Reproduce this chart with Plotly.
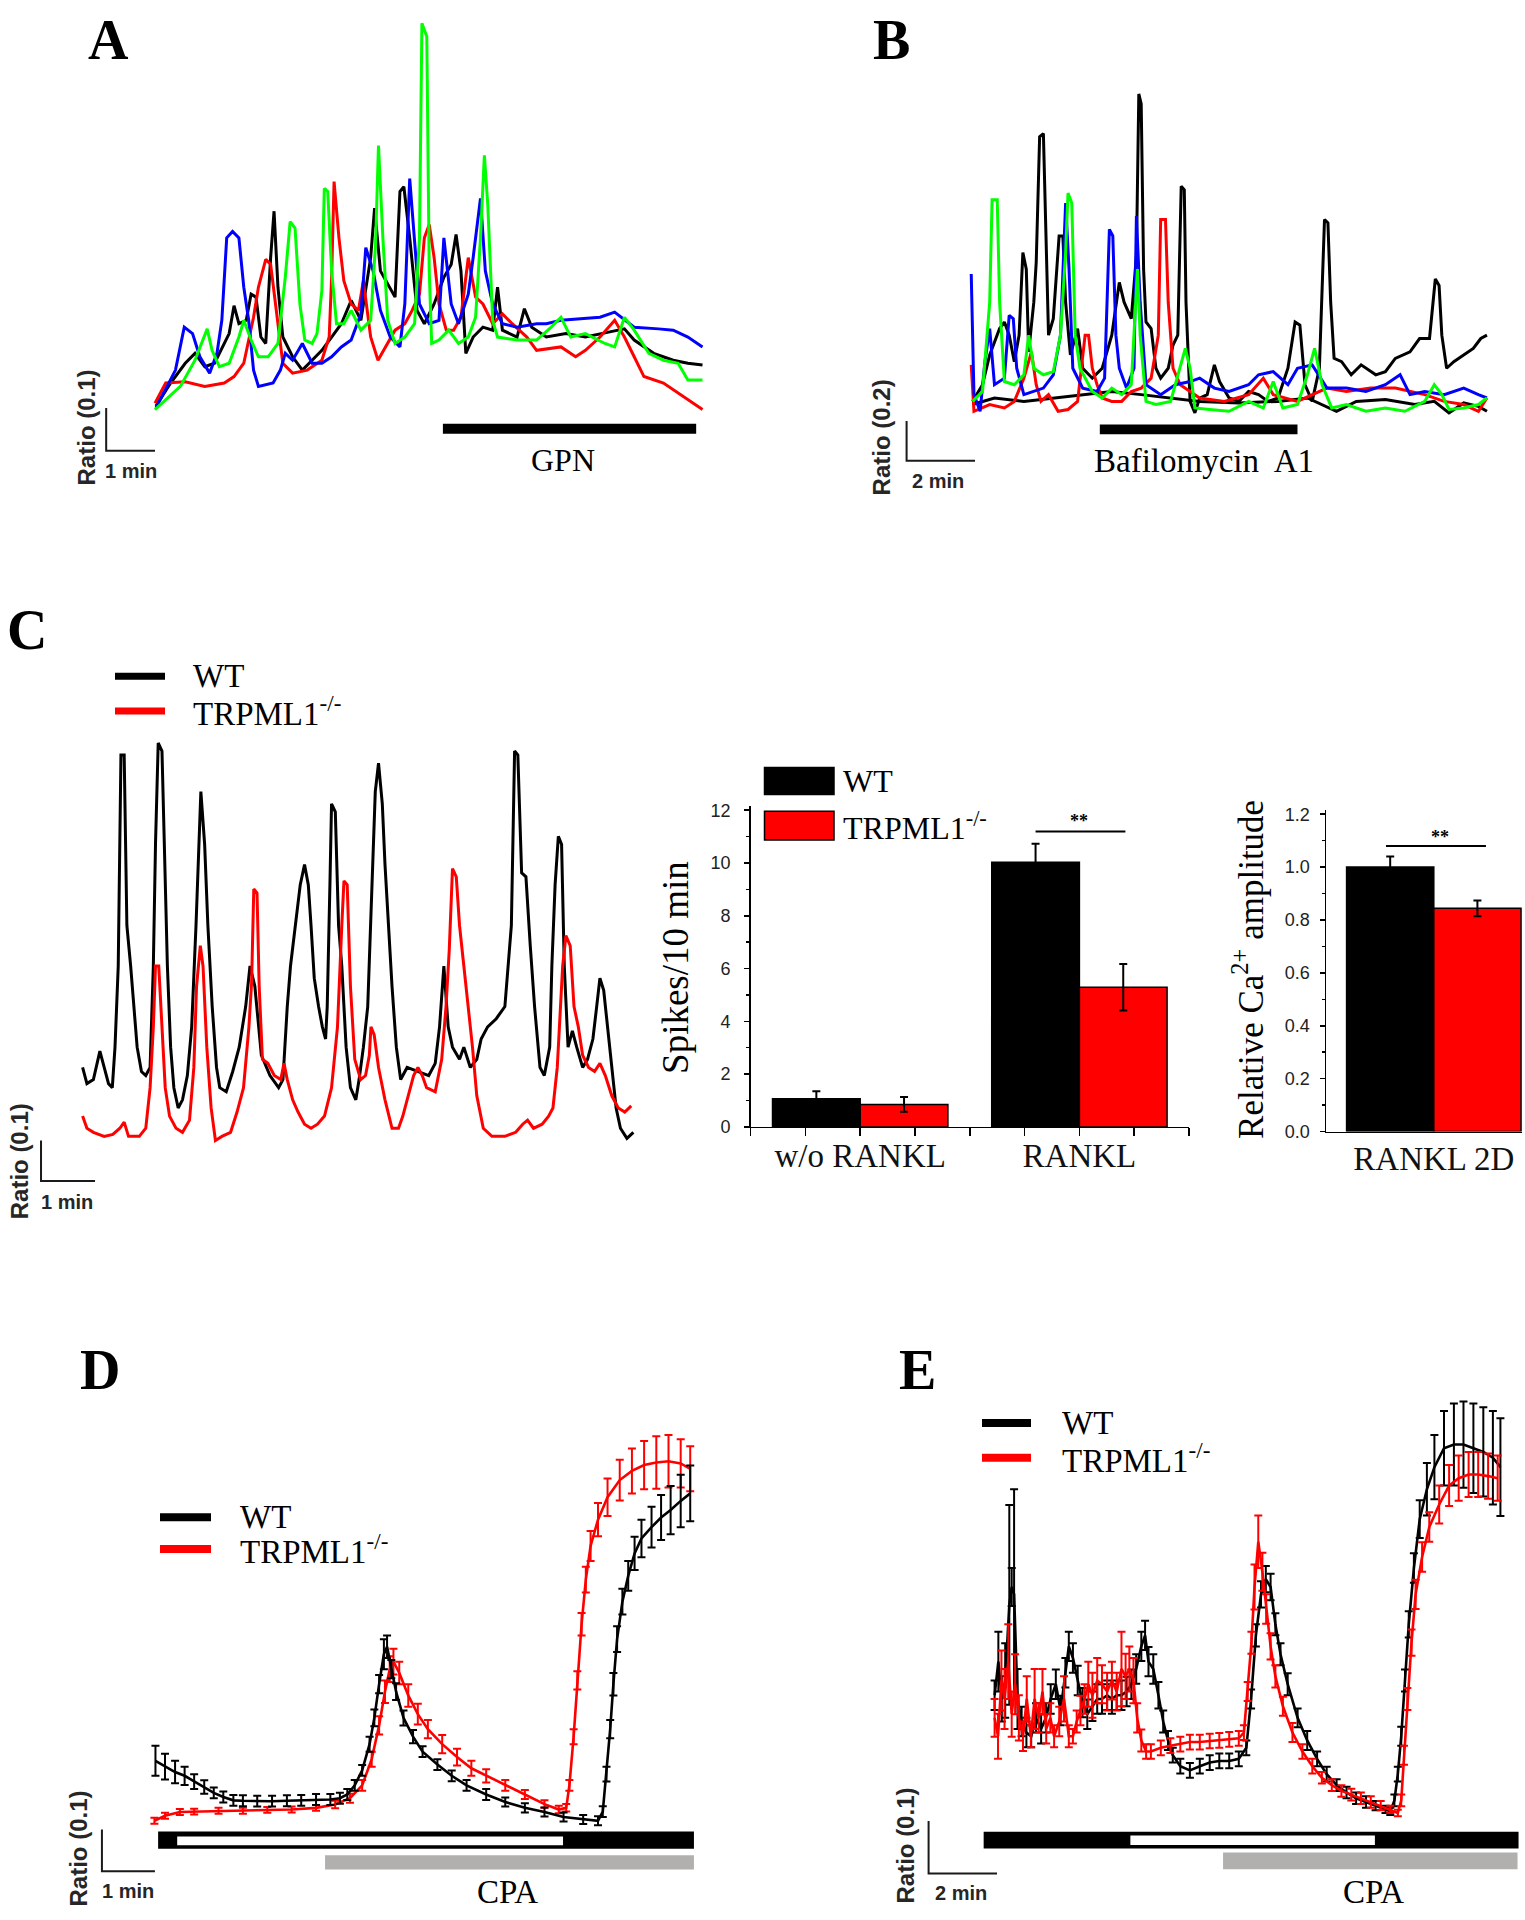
import plotly.graph_objects as go

W, H = 1525, 1920
SERIF = "Liberation Serif"
SANS = "Liberation Sans"
BLACK, RED, BLUE, GREEN = "#000000", "#ff0000", "#0000ff", "#00ff00"
CPA_GRAY = "#b2afaf"
TXT = "#262626"

# ---------------- DATA ----------------
# Panel A : (time [min], ratio change)
A_BLACK = [(0.04,0.008),(0.34,0.062),(0.64,0.108),(0.84,0.131),(1.04,0.1),(1.24,0.108),(1.54,0.177),(1.64,0.242),
           (1.74,0.2),(1.89,0.208),(1.99,0.269),(2.09,0.262),(2.19,0.169),(2.29,0.154),(2.39,0.354),(2.46,0.462),
           (2.54,0.285),(2.64,0.169),(2.84,0.123),(3.04,0.092),(3.24,0.115),(3.44,0.138),(3.64,0.169),(3.84,0.2),
           (4.04,0.254),(4.24,0.208),(4.44,0.354),(4.52,0.469),(4.64,0.323),(4.79,0.292),(4.94,0.262),(5.04,0.508),
           (5.12,0.519),(5.24,0.4),(5.39,0.231),(5.54,0.2),(5.74,0.246),(5.94,0.308),(6.09,0.338),(6.19,0.408),
           (6.29,0.323),(6.39,0.131),(6.54,0.169),(6.74,0.192),(6.94,0.185),(7.04,0.285),(7.14,0.185),(7.44,0.169),
           (7.59,0.235),(7.74,0.192),(8.04,0.169),(8.44,0.177),(8.84,0.169),(9.34,0.181),(9.64,0.188),(9.84,0.162),
           (10.24,0.131),(10.64,0.115),(10.94,0.108),(11.24,0.104)]
A_RED = [(0.02,0.015),(0.24,0.062),(0.64,0.065),(1.04,0.054),(1.44,0.062),(1.64,0.077),(1.84,0.108),(1.94,0.162),
         (2.04,0.215),(2.14,0.285),(2.29,0.35),(2.39,0.338),(2.49,0.246),(2.64,0.108),(2.84,0.085),(3.14,0.092),
         (3.44,0.115),(3.59,0.169),(3.64,0.308),(3.69,0.531),(3.79,0.4),(3.89,0.3),(4.04,0.246),(4.19,0.231),
         (4.29,0.3),(4.44,0.169),(4.59,0.115),(4.74,0.146),(4.94,0.185),(5.14,0.2),(5.29,0.231),(5.44,0.269),
         (5.54,0.4),(5.64,0.431),(5.74,0.354),(5.84,0.246),(5.99,0.185),(6.14,0.185),(6.29,0.215),(6.44,0.354),
         (6.59,0.262),(6.74,0.246),(6.94,0.2),(7.14,0.223),(7.34,0.2),(7.64,0.169),(7.84,0.138),(8.34,0.146),
         (8.64,0.123),(8.84,0.138),(9.14,0.169),(9.44,0.208),(9.64,0.169),(9.84,0.123),(10.04,0.077),(10.44,0.062),
         (10.74,0.038),(11.04,0.015),(11.24,0.0)]
A_BLUE = [(0.04,0.004),(0.44,0.092),(0.62,0.192),(0.79,0.177),(0.94,0.123),(1.14,0.085),(1.29,0.131),(1.39,0.208),
          (1.49,0.4),(1.61,0.415),(1.74,0.4),(1.84,0.285),(1.94,0.208),(2.04,0.092),(2.14,0.054),(2.44,0.062),
          (2.59,0.092),(2.69,0.131),(2.84,0.115),(3.04,0.154),(3.24,0.108),(3.44,0.108),(3.64,0.123),(3.84,0.146),
          (4.04,0.162),(4.24,0.223),(4.34,0.377),(4.49,0.323),(4.64,0.231),(4.84,0.169),(5.04,0.146),(5.14,0.246),
          (5.24,0.538),(5.34,0.4),(5.44,0.246),(5.64,0.2),(5.84,0.208),(5.94,0.4),(6.09,0.246),(6.24,0.2),
          (6.44,0.269),(6.54,0.354),(6.69,0.492),(6.79,0.323),(6.94,0.246),(7.14,0.2),(7.44,0.192),(7.84,0.2),
          (8.04,0.2),(8.34,0.208),(8.84,0.212),(9.14,0.215),(9.44,0.227),(9.84,0.192),(10.34,0.188),(10.64,0.185),
          (10.94,0.169),(11.24,0.146)]
A_GREEN = [(0.02,0.0),(0.24,0.023),(0.54,0.054),(0.84,0.115),(1.09,0.188),(1.19,0.138),(1.34,0.1),(1.54,0.108),
           (1.74,0.169),(1.84,0.208),(1.99,0.162),(2.14,0.123),(2.34,0.123),(2.54,0.154),(2.69,0.308),(2.79,0.438),
           (2.89,0.423),(2.99,0.246),(3.09,0.162),(3.24,0.154),(3.34,0.177),(3.44,0.277),(3.49,0.515),(3.56,0.508),
           (3.64,0.323),(3.74,0.2),(3.89,0.2),(4.04,0.231),(4.24,0.185),(4.44,0.208),(4.54,0.385),(4.6,0.615),
           (4.69,0.4),(4.79,0.208),(4.94,0.154),(5.14,0.169),(5.34,0.2),(5.44,0.4),(5.49,0.9),(5.59,0.869),
           (5.64,0.323),(5.69,0.154),(5.84,0.162),(6.04,0.185),(6.24,0.154),(6.44,0.169),(6.59,0.215),(6.69,0.4),
           (6.77,0.592),(6.84,0.477),(6.94,0.208),(7.04,0.169),(7.44,0.162),(7.84,0.162),(8.14,0.192),(8.34,0.215),
           (8.54,0.169),(8.84,0.177),(9.24,0.154),(9.44,0.146),(9.64,0.215),(9.84,0.185),(10.14,0.131),(10.44,0.115),
           (10.74,0.108),(10.94,0.069),(11.24,0.069)]
A_GPN = (5.92, 11.11)

# Panel B : (time [min], ratio change)
B_BLACK1 = [(0.07,0.058),(0.36,0.142),(0.57,0.292),(0.86,0.425),(1.0,0.458),(1.14,0.392),(1.29,0.258),(1.43,0.392),
            (1.54,0.808),(1.64,0.725),(1.71,0.308),(1.86,0.558),(1.93,0.758),(2.03,1.392),(2.14,1.408),(2.21,0.892),
            (2.29,0.392),(2.43,0.475),(2.5,0.642),(2.6,0.892),(2.71,0.892),(2.79,0.558),(2.93,0.292),(3.14,0.425),
            (3.29,0.225),(3.57,0.175),(3.86,0.225),(4.14,0.392),(4.36,0.658),(4.5,0.558),(4.71,0.475),(4.86,0.792),
            (4.93,1.608),(5.0,1.558),(5.07,0.725),(5.14,0.458),(5.29,0.425),(5.43,0.225),(5.57,0.175),(5.79,0.225),
            (5.93,0.342),(6.07,0.392),(6.17,1.142),(6.26,1.125),(6.31,0.558),(6.43,0.058),(6.57,0.0),(6.71,0.075),
            (6.93,0.092),(7.14,0.242),(7.29,0.158),(7.57,0.075),(7.86,0.058),(8.14,0.108),(8.43,0.092),(8.71,0.058),
            (9.0,0.075),(9.29,0.225),(9.5,0.458),(9.64,0.442),(9.79,0.142),(10.0,0.058),(10.21,0.225),(10.36,0.975),
            (10.46,0.958),(10.54,0.558),(10.64,0.275),(10.86,0.258),(11.14,0.192),(11.43,0.242),(11.86,0.192),
            (12.14,0.208),(12.43,0.275),(12.86,0.308),(13.14,0.375),(13.43,0.375),(13.6,0.675),(13.71,0.642),
            (13.79,0.392),(13.93,0.225),(14.14,0.258),(14.43,0.292),(14.71,0.325),(14.93,0.375),(15.11,0.392)]
B_BLACK2 = [(0.07,0.042),(0.71,0.075),(1.57,0.058),(2.43,0.075),(3.29,0.092),(4.14,0.108),(5.0,0.092),(5.86,0.075),
            (6.71,0.058),(7.86,0.05),(9.0,0.058),(9.86,0.075),(10.71,0.008),(11.29,0.058),(12.14,0.067),(13.0,0.042),
            (13.57,0.058),(14.0,0.0),(14.43,0.05),(14.86,0.033),(15.11,0.008)]
B_RED = [(0.03,0.242),(0.11,0.008),(0.57,0.042),(1.0,0.025),(1.29,0.058),(1.57,0.175),(1.79,0.308),(1.93,0.142),
         (2.07,0.058),(2.29,0.092),(2.57,0.008),(2.86,0.017),(3.14,0.058),(3.36,0.392),(3.46,0.392),(3.57,0.225),
         (3.71,0.142),(3.86,0.075),(4.14,0.058),(4.43,0.058),(4.71,0.108),(5.0,0.125),(5.29,0.175),(5.5,0.392),
         (5.57,0.975),(5.71,0.975),(5.79,0.558),(5.93,0.225),(6.14,0.142),(6.43,0.108),(6.71,0.075),(7.43,0.058),
         (8.14,0.092),(8.57,0.175),(8.86,0.092),(9.57,0.058),(10.0,0.092),(10.43,0.125),(11.0,0.108),(11.71,0.125),
         (12.43,0.125),(12.86,0.108),(13.29,0.092),(13.86,0.058),(14.43,0.042),(14.86,0.008),(15.11,0.075)]
B_BLUE = [(0.03,0.7),(0.11,0.092),(0.29,0.008),(0.43,0.258),(0.57,0.425),(0.71,0.142),(1.0,0.175),(1.14,0.492),
          (1.26,0.475),(1.36,0.225),(1.57,0.092),(1.86,0.108),(2.14,0.125),(2.43,0.192),(2.64,0.392),(2.79,1.058),
          (2.89,0.725),(3.0,0.225),(3.29,0.125),(3.71,0.108),(3.93,0.175),(4.07,0.925),(4.17,0.892),(4.26,0.392),
          (4.36,0.225),(4.57,0.125),(4.79,0.225),(4.86,0.992),(4.97,0.558),(5.14,0.142),(5.57,0.092),(6.0,0.142),
          (6.43,0.158),(6.71,0.175),(7.14,0.125),(7.57,0.108),(8.14,0.142),(8.43,0.192),(8.86,0.208),(9.29,0.142),
          (9.57,0.225),(10.0,0.242),(10.43,0.125),(11.0,0.125),(11.57,0.108),(12.14,0.142),(12.57,0.192),
          (12.86,0.092),(13.29,0.108),(13.86,0.092),(14.43,0.125),(14.86,0.092),(15.11,0.075)]
B_GREEN = [(0.07,0.058),(0.36,0.108),(0.57,0.558),(0.64,1.075),(0.79,1.075),(0.86,0.558),(1.0,0.158),(1.29,0.142),
           (1.57,0.192),(1.71,0.392),(1.86,0.225),(2.14,0.192),(2.43,0.208),(2.64,0.392),(2.79,0.808),(2.86,1.108),
           (2.97,1.058),(3.07,0.392),(3.21,0.225),(3.57,0.108),(3.86,0.075),(4.14,0.125),(4.43,0.092),(4.71,0.142),
           (4.89,0.725),(4.97,0.392),(5.14,0.058),(5.43,0.042),(5.86,0.058),(6.14,0.225),(6.29,0.325),(6.43,0.225),
           (6.57,0.025),(7.0,0.017),(7.57,0.008),(8.14,0.058),(8.57,0.025),(8.86,0.158),(9.14,0.025),(9.57,0.042),
           (9.86,0.192),(10.07,0.325),(10.29,0.142),(10.57,0.025),(11.0,0.042),(11.57,0.008),(12.14,0.025),
           (12.71,0.008),(13.29,0.058),(13.57,0.142),(13.79,0.092),(14.0,0.017),(14.43,0.025),(14.86,0.042),
           (15.11,0.075)]
B_BAF = (3.79, 9.57)

# Panel C traces : (time [min], ratio change)
C_WT = [(0.0,0.185),(0.08,0.145),(0.2,0.155),(0.32,0.225),(0.4,0.185),(0.48,0.145),(0.55,0.135),(0.6,0.235),
        (0.66,0.435),(0.71,0.955),(0.77,0.955),(0.82,0.535),(0.89,0.435),(0.95,0.335),(1.01,0.235),(1.09,0.175),
        (1.17,0.165),(1.25,0.185),(1.31,0.435),(1.35,0.735),(1.4,0.985),(1.47,0.965),(1.52,0.685),(1.57,0.435),
        (1.63,0.235),(1.69,0.135),(1.77,0.085),(1.85,0.105),(1.94,0.165),(2.02,0.285),(2.1,0.535),(2.15,0.735),
        (2.19,0.865),(2.26,0.735),(2.32,0.535),(2.4,0.335),(2.48,0.185),(2.54,0.135),(2.66,0.125),(2.78,0.175),
        (2.9,0.235),(3.02,0.335),(3.1,0.435),(3.19,0.385),(3.31,0.215),(3.47,0.165),(3.63,0.135),(3.71,0.155),
        (3.79,0.335),(3.85,0.435),(3.94,0.535),(4.03,0.635),(4.11,0.685),(4.18,0.635),(4.23,0.535),(4.29,0.405),
        (4.37,0.335),(4.44,0.285),(4.5,0.255),(4.53,0.335),(4.58,0.635),(4.61,0.835),(4.68,0.815),(4.74,0.535),
        (4.8,0.435),(4.88,0.235),(4.96,0.135),(5.06,0.105),(5.12,0.155),(5.2,0.235),(5.28,0.335),(5.36,0.635),
        (5.42,0.865),(5.48,0.935),(5.55,0.835),(5.6,0.685),(5.66,0.535),(5.73,0.385),(5.81,0.235),(5.89,0.155),
        (6.01,0.185),(6.21,0.175),(6.41,0.165),(6.53,0.195),(6.61,0.285),(6.69,0.435),(6.77,0.285),(6.85,0.235),
        (6.98,0.205),(7.06,0.235),(7.18,0.185),(7.3,0.205),(7.38,0.255),(7.5,0.285),(7.66,0.305),(7.82,0.335),
        (7.94,0.535),(8.0,0.965),(8.06,0.955),(8.13,0.665),(8.21,0.655),(8.29,0.485),(8.37,0.335),(8.47,0.185),
        (8.55,0.165),(8.65,0.235),(8.69,0.435),(8.75,0.635),(8.81,0.755),(8.87,0.735),(8.92,0.435),(8.99,0.235),
        (9.07,0.275),(9.15,0.235),(9.26,0.185),(9.35,0.205),(9.45,0.255),(9.52,0.335),(9.58,0.405),(9.65,0.375),
        (9.72,0.285),(9.8,0.185),(9.88,0.085),(9.96,0.035),(10.08,0.01),(10.2,0.025)]
C_KO = [(0.0,0.065),(0.08,0.035),(0.2,0.025),(0.4,0.015),(0.56,0.02),(0.69,0.035),(0.77,0.05),(0.85,0.015),
        (1.05,0.015),(1.17,0.035),(1.25,0.135),(1.31,0.285),(1.35,0.435),(1.41,0.435),(1.45,0.335),(1.53,0.135),
        (1.61,0.065),(1.73,0.035),(1.85,0.025),(1.98,0.055),(2.06,0.185),(2.11,0.385),(2.18,0.485),(2.23,0.435),
        (2.3,0.235),(2.38,0.085),(2.46,0.005),(2.58,0.015),(2.74,0.025),(2.86,0.075),(2.98,0.135),(3.08,0.285),
        (3.13,0.395),(3.17,0.625),(3.23,0.615),(3.27,0.385),(3.33,0.205),(3.43,0.195),(3.55,0.165),(3.67,0.155),
        (3.73,0.195),(3.79,0.155),(3.89,0.105),(3.99,0.075),(4.11,0.045),(4.23,0.035),(4.35,0.045),(4.48,0.065),
        (4.61,0.135),(4.72,0.285),(4.8,0.535),(4.84,0.645),(4.9,0.635),(4.96,0.385),(5.04,0.205),(5.15,0.155),
        (5.24,0.165),(5.31,0.215),(5.34,0.285),(5.4,0.265),(5.48,0.185),(5.6,0.105),(5.73,0.035),(5.85,0.035),
        (5.93,0.065),(6.05,0.125),(6.13,0.165),(6.21,0.185),(6.29,0.165),(6.37,0.135),(6.53,0.125),(6.65,0.205),
        (6.73,0.335),(6.79,0.475),(6.85,0.675),(6.92,0.655),(6.98,0.535),(7.06,0.435),(7.14,0.335),(7.22,0.235),
        (7.3,0.115),(7.42,0.035),(7.58,0.015),(7.82,0.015),(8.02,0.025),(8.15,0.045),(8.24,0.055),(8.35,0.035),
        (8.51,0.045),(8.63,0.065),(8.71,0.085),(8.79,0.185),(8.89,0.435),(8.95,0.51),(9.03,0.485),(9.1,0.335),
        (9.18,0.285),(9.26,0.215),(9.37,0.185),(9.48,0.175),(9.58,0.195),(9.68,0.165),(9.8,0.115),(9.92,0.085),
        (10.04,0.075),(10.16,0.09)]

# Panel C bar charts
SPIKE_CATS = ["w/o RANKL", "RANKL"]
SPIKE_WT = [1.07, 10.03]
SPIKE_WT_SEM = [0.28, 0.7]
SPIKE_KO = [0.85, 5.29]
SPIKE_KO_SEM = [0.28, 0.88]
SPIKE_TICKS = [0, 2, 4, 6, 8, 10, 12]
AMP_CATS = ["RANKL 2D"]
AMP_WT = [1.0]
AMP_WT_SEM = [0.04]
AMP_KO = [0.844]
AMP_KO_SEM = [0.03]
AMP_TICKS = [0.0, 0.2, 0.4, 0.6, 0.8, 1.0, 1.2]

# Panel D : (time [min], mean ratio change, SEM)
D_WT = [(0.02,0.153,0.036),(0.2,0.139,0.031),(0.39,0.126,0.027),(0.57,0.117,0.022),(0.75,0.103,0.018),
        (0.94,0.09,0.016),(1.12,0.076,0.013),(1.3,0.066,0.013),(1.49,0.058,0.013),(1.67,0.057,0.013),
        (1.94,0.056,0.013),(2.22,0.056,0.013),(2.5,0.057,0.013),(2.77,0.058,0.013),(3.05,0.06,0.013),
        (3.32,0.06,0.013),(3.5,0.063,0.013),(3.64,0.072,0.013),(3.78,0.094,0.013),(3.92,0.13,0.013),
        (4.06,0.193,0.018),(4.15,0.256,0.02),(4.24,0.337,0.022),(4.33,0.409,0.036),(4.39,0.427,0.027),
        (4.47,0.373,0.022),(4.56,0.319,0.02),(4.7,0.256,0.018),(4.88,0.211,0.016),(5.06,0.175,0.013),
        (5.34,0.144,0.013),(5.61,0.117,0.013),(5.89,0.094,0.013),(6.26,0.072,0.013),(6.62,0.054,0.011),
        (6.99,0.04,0.011),(7.36,0.03,0.011),(7.72,0.018,0.011),(8.09,0.012,0.011),(8.37,0.009,0.011),
        (8.46,0.031,0.013),(8.53,0.121,0.018),(8.6,0.229,0.022),(8.66,0.337,0.027),(8.73,0.445,0.031),
        (8.83,0.535,0.031),(8.94,0.597,0.036),(9.06,0.651,0.04),(9.19,0.687,0.045),(9.38,0.714,0.049),
        (9.56,0.737,0.054),(9.74,0.755,0.058),(9.93,0.777,0.063),(10.11,0.795,0.067)]
D_KO = [(0.0,0.009,0.007),(0.2,0.021,0.007),(0.48,0.03,0.007),(0.75,0.031,0.007),(1.21,0.033,0.007),
        (1.67,0.033,0.007),(2.13,0.035,0.007),(2.59,0.036,0.007),(3.05,0.04,0.007),(3.41,0.048,0.009),
        (3.69,0.063,0.011),(3.92,0.094,0.013),(4.1,0.157,0.018),(4.24,0.238,0.022),(4.35,0.319,0.027),
        (4.44,0.373,0.031),(4.51,0.391,0.031),(4.62,0.364,0.027),(4.79,0.31,0.027),(4.97,0.265,0.025),
        (5.16,0.229,0.022),(5.43,0.193,0.022),(5.71,0.162,0.02),(5.98,0.135,0.018),(6.26,0.117,0.016),
        (6.62,0.094,0.013),(6.99,0.072,0.011),(7.36,0.049,0.009),(7.63,0.036,0.009),(7.77,0.04,0.009),
        (7.83,0.094,0.013),(7.91,0.211,0.018),(7.98,0.346,0.022),(8.06,0.481,0.027),(8.14,0.588,0.031),
        (8.23,0.669,0.036),(8.37,0.732,0.04),(8.55,0.786,0.045),(8.78,0.827,0.049),(9.01,0.849,0.054),
        (9.24,0.863,0.058),(9.47,0.869,0.063),(9.7,0.872,0.063),(9.93,0.867,0.058),(10.11,0.854,0.054)]
D_STRIP = (0.07, 10.18)      # solution bar
D_ZERO_CA = (0.43, 7.71)     # open (white) part of the bar
D_CPA = (3.22, 10.18)

# Panel E : (time [min], mean ratio change, SEM)
E_WT = [(0.0,0.228,0.028),(0.11,0.292,0.057),(0.21,0.221,0.043),(0.31,0.256,0.071),(0.43,0.40,0.19),
        (0.5,0.434,0.036),(0.57,0.42,0.2),(0.67,0.221,0.057),(0.79,0.178,0.028),(0.93,0.157,0.028),
        (1.07,0.15,0.021),(1.21,0.185,0.028),(1.36,0.164,0.028),(1.5,0.185,0.028),(1.64,0.221,0.028),
        (1.79,0.249,0.028),(1.93,0.199,0.028),(2.07,0.271,0.028),(2.17,0.321,0.028),(2.29,0.299,0.028),
        (2.43,0.256,0.028),(2.57,0.214,0.028),(2.71,0.192,0.028),(2.86,0.207,0.028),(3.0,0.221,0.028),
        (3.14,0.221,0.028),(3.29,0.228,0.028),(3.43,0.221,0.028),(3.57,0.228,0.028),(3.71,0.228,0.028),
        (3.86,0.235,0.028),(4.0,0.249,0.028),(4.14,0.278,0.028),(4.29,0.321,0.028),(4.4,0.342,0.028),
        (4.5,0.292,0.028),(4.64,0.278,0.028),(4.79,0.228,0.025),(4.93,0.178,0.021),(5.07,0.142,0.018),
        (5.21,0.114,0.014),(5.43,0.093,0.014),(5.71,0.085,0.014),(6.0,0.093,0.014),(6.29,0.1,0.014),
        (6.57,0.103,0.014),(6.86,0.103,0.014),(7.14,0.107,0.014),(7.36,0.128,0.014),(7.5,0.221,0.018),
        (7.64,0.342,0.021),(7.79,0.42,0.025),(7.93,0.449,0.025),(8.07,0.434,0.025),(8.21,0.363,0.021),
        (8.36,0.306,0.021),(8.57,0.249,0.021),(8.86,0.185,0.018),(9.14,0.142,0.018),(9.43,0.107,0.014),
        (9.71,0.078,0.014),(10.0,0.057,0.011),(10.29,0.043,0.011),(10.57,0.032,0.011),(10.86,0.025,0.011),
        (11.14,0.018,0.009),(11.43,0.011,0.007),(11.57,0.007,0.007),(11.69,0.028,0.011),(11.79,0.078,0.014),
        (11.89,0.15,0.018),(12.0,0.256,0.021),(12.11,0.363,0.025),(12.26,0.47,0.028),(12.43,0.563,0.036),
        (12.64,0.62,0.05),(12.86,0.662,0.061),(13.14,0.698,0.071),(13.43,0.705,0.078),(13.71,0.705,0.082),
        (14.0,0.698,0.085),(14.29,0.691,0.085),(14.57,0.68,0.089),(14.79,0.662,0.093)]
E_KO = [(0.0,0.185,0.036),(0.1,0.15,0.043),(0.2,0.256,0.057),(0.29,0.221,0.057),(0.4,0.292,0.071),
        (0.5,0.192,0.043),(0.6,0.249,0.057),(0.71,0.185,0.043),(0.83,0.15,0.028),(0.94,0.221,0.043),
        (1.06,0.15,0.021),(1.17,0.221,0.057),(1.29,0.185,0.028),(1.4,0.235,0.043),(1.51,0.164,0.028),
        (1.63,0.185,0.028),(1.74,0.15,0.021),(1.89,0.178,0.028),(2.03,0.221,0.043),(2.17,0.15,0.021),
        (2.29,0.15,0.014),(2.4,0.178,0.021),(2.51,0.199,0.028),(2.63,0.221,0.028),(2.74,0.249,0.043),
        (2.86,0.228,0.043),(3.0,0.256,0.043),(3.14,0.249,0.036),(3.29,0.235,0.036),(3.43,0.256,0.036),
        (3.57,0.235,0.036),(3.71,0.278,0.071),(3.83,0.264,0.043),(3.94,0.278,0.043),(4.06,0.256,0.043),
        (4.17,0.185,0.028),(4.29,0.142,0.021),(4.43,0.121,0.014),(4.57,0.121,0.014),(4.86,0.128,0.014),
        (5.14,0.132,0.014),(5.43,0.135,0.014),(5.71,0.139,0.014),(6.0,0.139,0.014),(6.29,0.141,0.014),
        (6.57,0.142,0.014),(6.86,0.144,0.014),(7.14,0.146,0.014),(7.29,0.157,0.014),(7.4,0.235,0.018),
        (7.51,0.328,0.021),(7.6,0.434,0.043),(7.71,0.52,0.05),(7.83,0.463,0.036),(7.94,0.392,0.028),
        (8.07,0.321,0.025),(8.21,0.264,0.021),(8.43,0.207,0.018),(8.71,0.157,0.018),(9.0,0.121,0.014),
        (9.29,0.093,0.014),(9.57,0.071,0.011),(9.86,0.057,0.011),(10.14,0.046,0.011),(10.43,0.039,0.011),
        (10.71,0.032,0.011),(11.0,0.025,0.011),(11.29,0.018,0.009),(11.57,0.011,0.007),(11.79,0.004,0.006),
        (11.89,0.028,0.011),(11.97,0.114,0.018),(12.07,0.221,0.021),(12.19,0.328,0.025),(12.31,0.42,0.028),
        (12.5,0.491,0.028),(12.71,0.548,0.028),(13.0,0.591,0.036),(13.29,0.627,0.039),(13.57,0.641,0.043),
        (13.86,0.648,0.043),(14.14,0.648,0.043),(14.43,0.645,0.043),(14.71,0.641,0.043)]
E_STRIP = (-0.32, 15.32)
E_ZERO_CA = (3.97, 11.12)
E_CPA = (6.68, 15.29)


# ---------------- HELPERS ----------------
def fx(px):
    return px / W


def fy(py):
    return 1 - py / H


def cols(rows):
    return [list(c) for c in zip(*rows)]


layout_axes = {}


def ax_names(i):
    s = "" if i == 1 else str(i)
    return "x" + s, "y" + s


def add_hidden_panel(i, box, origin, scale):
    """box=(px0,px1,py0,py1) pixel frame; origin=(px of t=0, py of ratio=0); scale=(px/min, px/ratio)."""
    px0, px1, py0, py1 = box
    ox, oy = origin
    sx, sy = scale
    xn, yn = ax_names(i)
    layout_axes["xaxis" + xn[1:]] = dict(domain=[fx(px0), fx(px1)], range=[(px0 - ox) / sx, (px1 - ox) / sx],
                                         visible=False, anchor=yn, fixedrange=True)
    layout_axes["yaxis" + yn[1:]] = dict(domain=[fy(py1), fy(py0)], range=[(oy - py1) / sy, (oy - py0) / sy],
                                         visible=False, anchor=xn, fixedrange=True)
    return xn, yn


fig = go.Figure()
shapes = []
annots = []


def line_trace(rows, color, xa, ya, width=3):
    t, r = cols(rows)
    fig.add_trace(go.Scatter(x=t, y=r, mode="lines", line=dict(color=color, width=width),
                             xaxis=xa, yaxis=ya, showlegend=False, hoverinfo="skip"))


def err_trace(rows, color, xa, ya):
    t, m, e = cols(rows)
    fig.add_trace(go.Scatter(x=t, y=m, mode="lines", line=dict(color=color, width=2.6),
                             error_y=dict(type="data", array=e, visible=True, color=color, thickness=2, width=4),
                             xaxis=xa, yaxis=ya, showlegend=False, hoverinfo="skip"))


def scale_bar(xa, ya, t0, r0, dt, dr):
    shapes.append(dict(type="path", xref=xa, yref=ya,
                       path=f"M {t0},{r0 + dr} L {t0},{r0} L {t0 + dt},{r0}",
                       line=dict(color="#1a1a1a", width=2)))


def rect(xa, ya, x0, x1, y0, y1, color, lw=0, lc="black"):
    shapes.append(dict(type="rect", xref=xa, yref=ya, x0=x0, x1=x1, y0=y0, y1=y1,
                       fillcolor=color, line=dict(width=lw, color=lc)))


def text(t, px, py, size, family=SERIF, color="black", xanchor="center", angle=0, yanchor="middle"):
    annots.append(dict(text=t, x=fx(px), y=fy(py), xref="paper", yref="paper", showarrow=False,
                       font=dict(size=size, family=family, color=color), xanchor=xanchor, yanchor=yanchor,
                       textangle=angle))


def legend_line(x0, x1, py, color, width=7):
    shapes.append(dict(type="line", xref="paper", yref="paper", x0=fx(x0), x1=fx(x1), y0=fy(py), y1=fy(py),
                       line=dict(color=color, width=width)))


def ratio_label(label, px, py):
    text(f"<b>{label}</b>", px, py, 24, SANS, TXT, angle=-90)


def min_label(label, px, py):
    text(f"<b>{label}</b>", px, py, 20, SANS, TXT)


LETTER = 56
LAB_FS = 33

# ---------------- PANEL A ----------------
xa, ya = add_hidden_panel(1, (90, 720, 5, 480), (154, 407), (48.8, 433))
for rows, c in [(A_BLACK, BLACK), (A_RED, RED), (A_BLUE, BLUE), (A_GREEN, GREEN)]:
    line_trace(rows, c, xa, ya)
scale_bar(xa, ya, -0.98, -0.096, 1.0, 0.1)
rect(xa, ya, A_GPN[0], A_GPN[1], -0.056, -0.033, BLACK)
text("GPN", 563, 458, 32)
ratio_label("Ratio (0.1)", 86, 425)
min_label("1 min", 131, 469)
text("<b>A</b>", 109, 1, LETTER, yanchor="top")

# ---------------- PANEL B ----------------
xa, ya = add_hidden_panel(2, (870, 1500, 60, 480), (970.2, 410.3), (34.2, 200))
for rows, c in [(B_BLACK2, BLACK), (B_BLACK1, BLACK), (B_RED, RED), (B_BLUE, BLUE), (B_GREEN, GREEN)]:
    line_trace(rows, c, xa, ya)
scale_bar(xa, ya, -1.86, -0.241, 2.0, 0.2)
rect(xa, ya, B_BAF[0], B_BAF[1], -0.108, -0.058, BLACK)
text("Bafilomycin  A1", 1204, 459, 33)
ratio_label("Ratio (0.2)", 881, 435)
min_label("2 min", 938, 479)
text("<b>B</b>", 891, 1, LETTER, yanchor="top")

# ---------------- PANEL C traces ----------------
xa, ya = add_hidden_panel(3, (10, 650, 720, 1200), (82.6, 1146), (54, 409))
line_trace(C_WT, BLACK, xa, ya)
line_trace(C_KO, RED, xa, ya)
scale_bar(xa, ya, -0.77, -0.095, 1.0, 0.1)
ratio_label("Ratio (0.1)", 19, 1165)
min_label("1 min", 67, 1206)
text("<b>C</b>", 27, 629, LETTER)
legend_line(115, 165, 676, BLACK)
legend_line(115, 165, 711, RED)
text("WT", 191, 676, LAB_FS, xanchor="left")
text("TRPML1<sup>-/-</sup>", 191, 711, LAB_FS, xanchor="left")

# ---------------- PANEL C bar chart 1 ----------------
idx = list(range(len(SPIKE_CATS)))
fig.add_trace(go.Bar(x=idx, y=SPIKE_WT, width=0.4, offset=-0.4, xaxis="x4", yaxis="y4",
                     marker=dict(color=BLACK, line=dict(color=BLACK, width=1.5)),
                     error_y=dict(type="data", array=SPIKE_WT_SEM, color=BLACK, thickness=2, width=4),
                     showlegend=False, hoverinfo="skip"))
fig.add_trace(go.Bar(x=idx, y=SPIKE_KO, width=0.4, offset=0.0, xaxis="x4", yaxis="y4",
                     marker=dict(color=RED, line=dict(color=BLACK, width=1.5)),
                     error_y=dict(type="data", array=SPIKE_KO_SEM, color=BLACK, thickness=2, width=4),
                     showlegend=False, hoverinfo="skip"))
xt = [-0.5 + 0.25 * k for k in range(9)]
xtt = [SPIKE_CATS[int(v)] if v in idx else "" for v in xt]
layout_axes["xaxis4"] = dict(domain=[fx(750.6), fx(1189)], range=[-0.5, 1.5], anchor="y4",
                             tickmode="array", tickvals=xt, ticktext=xtt, ticks="outside", ticklen=8,
                             tickwidth=1.5, tickcolor=BLACK, showline=True, linecolor=BLACK, linewidth=1.5,
                             showgrid=False, zeroline=False, fixedrange=True, ticklabelstandoff=-9,
                             tickfont=dict(family=SERIF, size=LAB_FS, color="#111"))
layout_axes["yaxis4"] = dict(domain=[fy(1130.3), fy(807)], range=[0, 12.15], anchor="x4",
                             tickmode="array", tickvals=SPIKE_TICKS, ticks="outside", ticklen=5, tickwidth=1.5,
                             tickcolor=BLACK, showline=True, linecolor=BLACK, linewidth=1.5,
                             minor=dict(dtick=1, ticks="outside", ticklen=3, tickcolor=BLACK),
                             showgrid=False, zeroline=False, fixedrange=True, ticklabelstandoff=10,
                             tickfont=dict(family=SANS, size=18, color="#222"))
shapes.append(dict(type="line", xref="x4", yref="y4", x0=0.80, x1=1.21, y0=11.19, y1=11.19,
                   line=dict(color=BLACK, width=2)))
annots.append(dict(text="<b>**</b>", x=1.0, y=11.6, xref="x4", yref="y4", showarrow=False,
                   font=dict(family=SERIF, size=18, color=BLACK)))
text("Spikes/10 min", 676, 970, 37, angle=-90)
# legend
shapes.append(dict(type="rect", xref="paper", yref="paper", x0=fx(764.5), x1=fx(834), y0=fy(795), y1=fy(768),
                   fillcolor=BLACK, line=dict(color=BLACK, width=1.5)))
shapes.append(dict(type="rect", xref="paper", yref="paper", x0=fx(764.5), x1=fx(834), y0=fy(841), y1=fy(812),
                   fillcolor=RED, line=dict(color=BLACK, width=1.5)))
text("WT", 841, 782, 32, xanchor="left")
text("TRPML1<sup>-/-</sup>", 841, 827, 32, xanchor="left")

# ---------------- PANEL C bar chart 2 ----------------
idx2 = list(range(len(AMP_CATS)))
fig.add_trace(go.Bar(x=idx2, y=AMP_WT, width=0.445, offset=-0.445, xaxis="x5", yaxis="y5",
                     marker=dict(color=BLACK, line=dict(color=BLACK, width=1.5)),
                     error_y=dict(type="data", array=AMP_WT_SEM, color=BLACK, thickness=2, width=4),
                     showlegend=False, hoverinfo="skip"))
fig.add_trace(go.Bar(x=idx2, y=AMP_KO, width=0.445, offset=0.0, xaxis="x5", yaxis="y5",
                     marker=dict(color=RED, line=dict(color=BLACK, width=1.5)),
                     error_y=dict(type="data", array=AMP_KO_SEM, color=BLACK, thickness=2, width=4),
                     showlegend=False, hoverinfo="skip"))
layout_axes["xaxis5"] = dict(domain=[fx(1326), fx(1522)], range=[-0.55, 0.45], anchor="y5",
                             tickmode="array", tickvals=idx2, ticktext=AMP_CATS, ticks="",
                             showline=True, linecolor=BLACK, linewidth=1.5, showgrid=False, zeroline=False,
                             fixedrange=True, ticklabelstandoff=-3,
                             tickfont=dict(family=SERIF, size=LAB_FS, color="#111"))
layout_axes["yaxis5"] = dict(domain=[fy(1135), fy(811)], range=[0, 1.215], anchor="x5",
                             tickmode="array", tickvals=AMP_TICKS, tickformat=".1f", ticks="outside", ticklen=5,
                             tickwidth=1.5, tickcolor=BLACK, showline=True, linecolor=BLACK, linewidth=1.5,
                             minor=dict(dtick=0.1, ticks="outside", ticklen=3, tickcolor=BLACK),
                             showgrid=False, zeroline=False, fixedrange=True, ticklabelstandoff=6,
                             tickfont=dict(family=SANS, size=18, color="#222"))
shapes.append(dict(type="line", xref="x5", yref="y5", x0=-0.244, x1=0.266, y0=1.08, y1=1.08,
                   line=dict(color=BLACK, width=2)))
annots.append(dict(text="<b>**</b>", x=0.034, y=1.115, xref="x5", yref="y5", showarrow=False,
                   font=dict(family=SERIF, size=18, color=BLACK)))
text("Relative Ca<sup>2+</sup> amplitude", 1249, 972, 35, angle=-90)

# ---------------- PANEL D ----------------
xa, ya = add_hidden_panel(7, (80, 720, 1420, 1905), (154.4, 1833.8), (53, 420))
err_trace(D_KO, RED, xa, ya)
err_trace(D_WT, BLACK, xa, ya)
scale_bar(xa, ya, -0.99, -0.112, 1.0, 0.1)
rect(xa, ya, D_STRIP[0], D_STRIP[1], -0.058, -0.017, BLACK)
rect(xa, ya, D_ZERO_CA[0], D_ZERO_CA[1], -0.05, -0.029, "white")
rect(xa, ya, D_CPA[0], D_CPA[1], -0.108, -0.074, CPA_GRAY)
text("CPA", 507, 1902, 33)
ratio_label("Ratio (0.1)", 79, 1858)
min_label("1 min", 128, 1901)
text("<b>D</b>", 100, 1375, LETTER)
legend_line(160, 211, 1524, BLACK, 8)
legend_line(160, 211, 1556, RED, 8)
text("WT", 238, 1524, LAB_FS, xanchor="left")
text("TRPML1<sup>-/-</sup>", 238, 1556, LAB_FS, xanchor="left")

# ---------------- PANEL E ----------------
xa, ya = add_hidden_panel(8, (900, 1525, 1380, 1905), (994.6, 1824.3), (34.2, 530))
err_trace(E_WT, BLACK, xa, ya)
err_trace(E_KO, RED, xa, ya)
scale_bar(xa, ya, -1.93, -0.111, 2.0, 0.1)
rect(xa, ya, E_STRIP[0], E_STRIP[1], -0.0636, -0.0315, BLACK)
rect(xa, ya, E_ZERO_CA[0], E_ZERO_CA[1], -0.057, -0.039, "white")
rect(xa, ya, E_CPA[0], E_CPA[1], -0.103, -0.071, CPA_GRAY)
text("CPA", 1373, 1902, 33)
ratio_label("Ratio (0.1)", 906, 1855)
min_label("2 min", 961, 1903)
text("<b>E</b>", 917, 1375, LETTER)
legend_line(982, 1031, 1429, BLACK, 8)
legend_line(982, 1031, 1464, RED, 8)
text("WT", 1060, 1429, LAB_FS, xanchor="left")
text("TRPML1<sup>-/-</sup>", 1060, 1464, LAB_FS, xanchor="left")

fig.update_layout(width=W, height=H, autosize=False, margin=dict(l=0, r=0, t=0, b=0),
                  paper_bgcolor="white", plot_bgcolor="rgba(0,0,0,0)", showlegend=False,
                  barmode="overlay", shapes=shapes, annotations=annots, **layout_axes)
fig.write_html("out.html", config={"displayModeBar": False, "staticPlot": True},
               post_script="document.body.style.margin='0px';document.body.style.padding='0px';")
